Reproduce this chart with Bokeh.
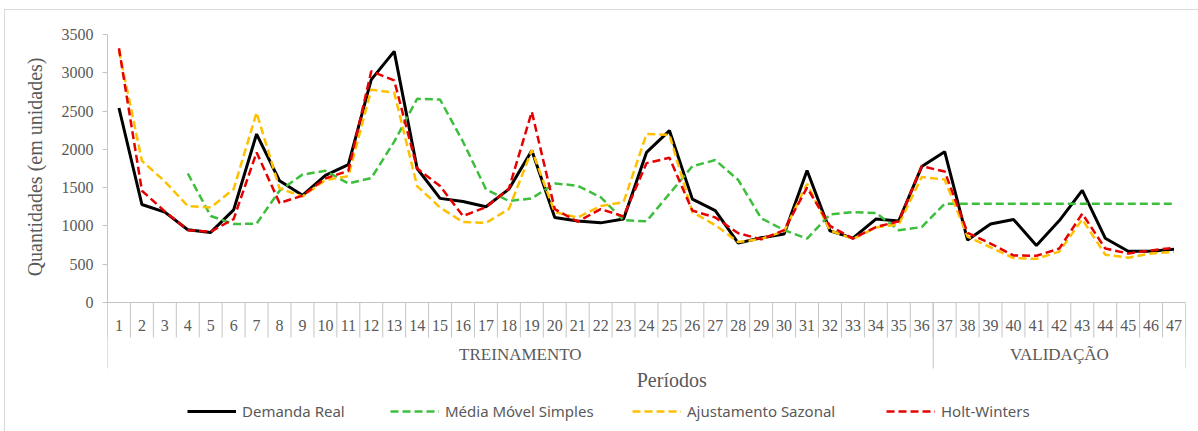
from bokeh.plotting import figure
from bokeh.models import (Range1d, FixedTicker, Legend, LegendItem, Title, Label,
                          Span, ColumnDataSource)
from bokeh.core.properties import value
from bokeh.embed import file_html
from bokeh.resources import INLINE

NaN = float("nan")

# ---- data -------------------------------------------------------------
periods = list(range(1, 48))

demanda_real = [2540, 1280, 1180, 950, 915, 1210, 2200, 1590, 1400, 1660,
                1800, 2910, 3280, 1750, 1360, 1320, 1250, 1480, 1985, 1110,
                1065, 1040, 1090, 1960, 2245, 1350, 1200, 775, 845, 895,
                1725, 935, 840, 1090, 1065, 1775, 1970, 815, 1025, 1085,
                745, 1070, 1465, 840, 670, 670, 695]

media_movel_simples = [NaN, NaN, NaN, 1685, 1130, 1025, 1030, 1460, 1670, 1720,
                       1555, 1625, 2100, 2660, 2650, 2100, 1480, 1325, 1360, 1555,
                       1525, 1375, 1075, 1060, 1420, 1780, 1860, 1600, 1100, 945,
                       835, 1150, 1180, 1170, 945, 985, 1290, 1290, 1290, 1290,
                       1290, 1290, 1290, 1290, 1290, 1290, 1290]

ajustamento_sazonal = [3290, 1850, 1580, 1260, 1240, 1480, 2480, 1490, 1385, 1600,
                       1650, 2780, 2740, 1520, 1240, 1050, 1040, 1220, 1990, 1180,
                       1110, 1260, 1310, 2200, 2190, 1180, 1010, 790, 830, 930,
                       1550, 940, 830, 980, 1020, 1640, 1605, 860, 720, 580,
                       570, 665, 1085, 625, 585, 640, 660]

holt_winters = [3320, 1460, 1190, 945, 925, 1090, 1960, 1300, 1395, 1620,
                1720, 3020, 2900, 1750, 1520, 1130, 1245, 1485, 2490, 1220,
                1055, 1220, 1125, 1820, 1890, 1200, 1110, 905, 825, 945,
                1500, 1000, 835, 985, 1060, 1780, 1710, 910, 770, 615,
                610, 705, 1160, 705, 640, 680, 715]

phase_names = ["TREINAMENTO", "VALIDAÇÃO"]
phase_last_period = [36, 47]

y_ticks = [0, 500, 1000, 1500, 2000, 2500, 3000, 3500]

# ---- layout constants ---------------------------------------------------
W, H = 1198, 431
LEFT, RIGHT, TOP = 107, 13, 34
ZERO_Y = 302                       # canvas row of the value 0
Y_MAX = 3500
PX = Y_MAX / (ZERO_Y - TOP)        # data units per pixel
Y_MIN = -(H - ZERO_Y) * PX         # frame runs down to the canvas bottom


def below_zero(px):
    """Data value that lies px pixels under the zero line."""
    return -px * PX


GREY_TXT = "#595959"
GREY_LINE = "#c4c4c4"
FRAME_GREY = "#d9d9d9"
SERIF = "Liberation Serif"
SANS = "Noto Sans"

p = figure(width=W, height=H, output_backend="svg", toolbar_location=None,
           x_range=Range1d(0.5, len(periods) + 0.5),
           y_range=Range1d(Y_MIN, Y_MAX),
           min_border_left=LEFT, min_border_right=RIGHT,
           min_border_top=TOP, min_border_bottom=0)

# light chart-area frame painted behind the (transparent) border region
p.border_fill_alpha = 0
p.background_fill_color = "white"
p.styles = {
    "background-color": "white",
    "background-image": (f"linear-gradient({FRAME_GREY}, {FRAME_GREY}), "
                         f"linear-gradient({FRAME_GREY}, {FRAME_GREY})"),
    "background-size": "1px 100%, 100% 1px",
    "background-position": "4px 9px, 4px 9px",
    "background-repeat": "no-repeat",
}
p.outline_line_color = None
p.xgrid.visible = False
p.ygrid.visible = False
p.xaxis.visible = False

# value axis
ya = p.yaxis[0]
ya.ticker = FixedTicker(ticks=y_ticks)
ya.bounds = (0, Y_MAX)
ya.axis_line_color = GREY_LINE
ya.major_tick_line_color = GREY_LINE
ya.major_tick_out = 5
ya.major_tick_in = 0
ya.minor_tick_line_color = None
ya.major_label_standoff = 9
ya.major_label_text_font = SERIF
ya.major_label_text_font_size = "16px"
ya.major_label_text_color = GREY_TXT

p.add_layout(Title(text="Quantidades (em unidades)", align="right", offset=23,
                   standoff=26, text_font=SERIF, text_font_size="20px",
                   text_font_style="normal", text_color=GREY_TXT), "left")

# category axis: baseline, separators and two levels of labels
p.add_layout(Span(location=0, dimension="width", line_color=GREY_LINE, line_width=1))

bounds = [i - 0.5 for i in periods] + [periods[-1] + 0.5]
p.segment(x0=bounds, x1=bounds, y0=[0] * len(bounds),
          y1=[below_zero(35)] * len(bounds), line_color=GREY_LINE, line_width=1)

group_bounds = [0.5] + [last + 0.5 for last in phase_last_period]
p.segment(x0=group_bounds, x1=group_bounds, y0=[0] * len(group_bounds),
          y1=[below_zero(66)] * len(group_bounds), line_color=GREY_LINE, line_width=1)

p.text(x=periods, y=[below_zero(23)] * len(periods), text=[str(i) for i in periods],
       text_align="center", text_baseline="middle",
       text_font=value(SERIF), text_font_size="16px", text_color=GREY_TXT)

group_centres = [(group_bounds[i] + group_bounds[i + 1]) / 2 for i in range(len(phase_names))]
p.text(x=group_centres, y=[below_zero(52)] * len(phase_names), text=phase_names,
       text_align="center", text_baseline="middle",
       text_font=value(SERIF), text_font_size="17px", text_color=GREY_TXT)

p.add_layout(Label(x=25.1, y=below_zero(77), text="Períodos", text_align="center",
                   text_baseline="middle", text_font=SERIF, text_font_size="20px",
                   text_color=GREY_TXT))

# series
src = ColumnDataSource(dict(period=periods, real=demanda_real, mms=media_movel_simples,
                            saz=ajustamento_sazonal, hw=holt_winters))

r_real = p.line("period", "real", source=src, line_color="black", line_width=3)
r_mms = p.line("period", "mms", source=src, line_color="#3DBF3D", line_width=2.5,
               line_dash="8 4")
r_saz = p.line("period", "saz", source=src, line_color="#FFC000", line_width=2.5,
               line_dash="8 4")
r_hw = p.line("period", "hw", source=src, line_color="#E60000", line_width=2.5,
              line_dash="8 4")

# one legend per entry so each sits at its own spot under the axis
entries = [("Demanda Real", r_real, 80), ("Média Móvel Simples", r_mms, 283),
           ("Ajustamento Sazonal", r_saz, 525), ("Holt-Winters", r_hw, 779)]
for label, rend, x_off in entries:
    leg = Legend(items=[LegendItem(label=label, renderers=[rend])],
                 location=(x_off, 10), padding=0, margin=0,
                 glyph_width=49, glyph_height=20, label_height=20,
                 label_standoff=6, border_line_color=None,
                 background_fill_alpha=0, label_text_font=SANS,
                 label_text_font_size="15px", label_text_color=GREY_TXT)
    p.add_layout(leg, "center")

open("out.html", "w").write(file_html(p, INLINE))
